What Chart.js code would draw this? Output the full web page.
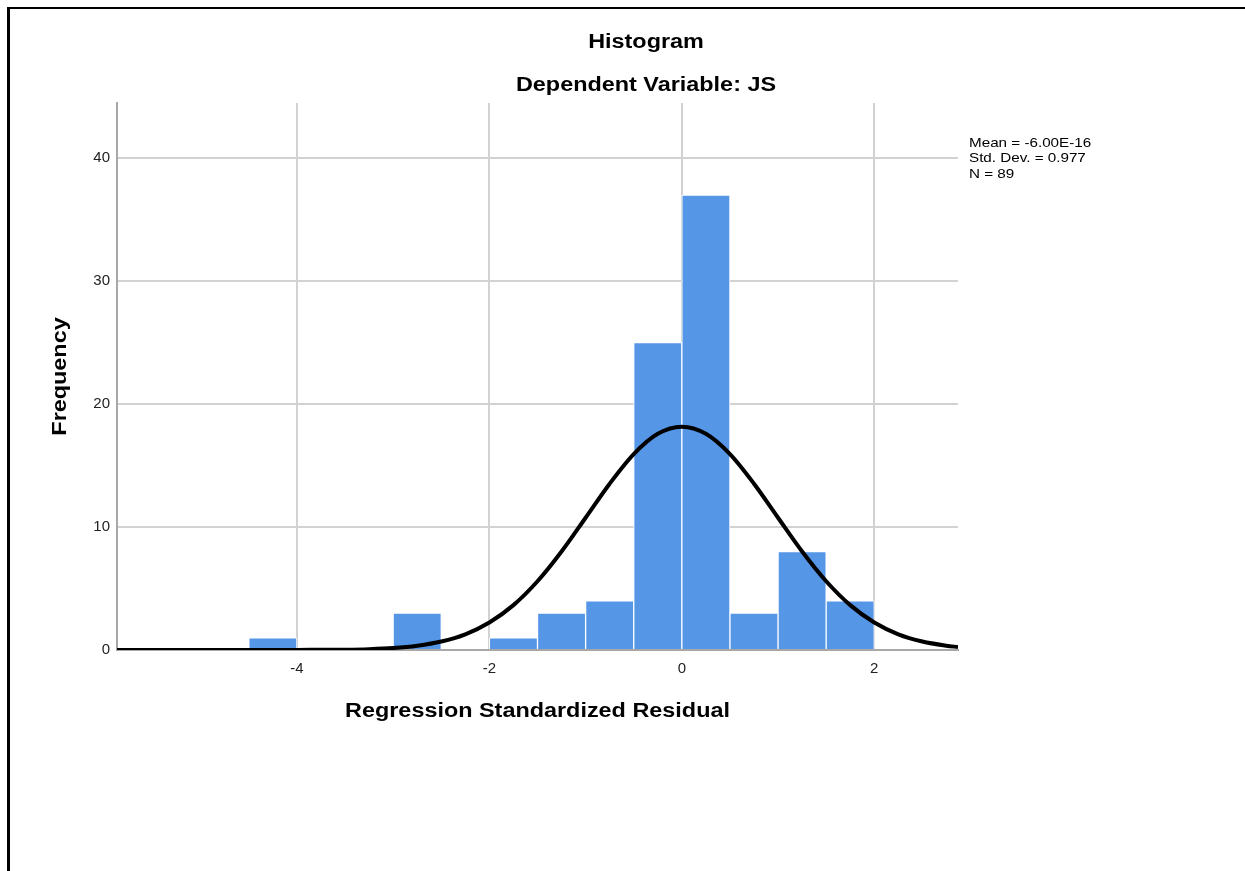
<!DOCTYPE html>
<html>
<head>
<meta charset="utf-8">
<script src="https://cdn.jsdelivr.net/npm/chart.js@4.4.1/dist/chart.umd.min.js"></script>
<style>
  html, body { margin: 0; padding: 0; background: #fff; }
  #frame {
    position: absolute; left: 7px; top: 7px; right: 0; bottom: 0;
    border-top: 2px solid #000; border-left: 3px solid #000;
  }
  #myChart { position: absolute; left: 0; top: 0; }
</style>
</head>
<body>
<div id="frame"></div>
<canvas id="myChart" width="1245" height="871"></canvas>
<script>
// bin centers (width 0.5) and frequencies
const binCenters = [-4.25, -3.75, -3.25, -2.75, -2.25, -1.75, -1.25, -0.75, -0.25, 0.25, 0.75, 1.25, 1.75];
const counts     = [1, 0, 0, 3, 0, 1, 3, 4, 25, 37, 3, 8, 4];

// normal curve
const curveX = [-5.87, -5, -4.5, -4, -3.5, -3.25, -3, -2.75, -2.5, -2.25, -2, -1.75, -1.5, -1.25, -1, -0.75, -0.5, -0.25, 0,
                0.25, 0.5, 0.75, 1, 1.25, 1.5, 1.75, 2, 2.25, 2.5, 2.75, 2.87];
const curveY = [0, 0, 0, 0.01, 0.03, 0.07, 0.16, 0.35, 0.69, 1.28, 2.24, 3.65, 5.59, 8.01, 10.76, 13.53, 15.94, 17.59, 18.17,
                17.59, 15.94, 13.53, 10.76, 8.01, 5.59, 3.65, 2.24, 1.28, 0.69, 0.35, 0.24];

const xTicks = [-4, -2, 0, 2];
const yTicks = [0, 10, 20, 30, 40];

const stats = ['Mean = -6.00E-16', 'Std. Dev. = 0.977', 'N = 89'];

const SX = 1.17; // SPSS text is a bit wider than Arial

function drawText(ctx, text, x, y, font, align, angle) {
    ctx.save();
    ctx.translate(x, y);
    if (angle) ctx.rotate(angle);
    ctx.scale(SX, 1);
    ctx.font = font;
    ctx.fillStyle = '#000';
    ctx.textAlign = align;
    ctx.textBaseline = 'middle';
    ctx.fillText(text, 0, 0);
    ctx.restore();
}

const textPlugin = {
    id: 'spssText',
    afterDraw(chart) {
        const ctx = chart.ctx;
        const area = chart.chartArea;
        const big = 'bold 20px "Liberation Sans", Arial, sans-serif';
        drawText(ctx, 'Histogram', 646, 42, big, 'center');
        drawText(ctx, 'Dependent Variable: JS', 646, 85, big, 'center');
        drawText(ctx, 'Regression Standardized Residual', (area.left + area.right) / 2, 711, big, 'center');
        drawText(ctx, 'Frequency', 60, (area.top + area.bottom) / 2, big, 'center', -Math.PI / 2);
        stats.forEach((s, i) => {
            drawText(ctx, s, 969, 143 + i * 15.5, '13px "Liberation Sans", Arial, sans-serif', 'left');
        });
    }
};

const config = {
    type: 'bar',
    data: {
        datasets: [
            {
                type: 'line',
                data: curveX.map((x, i) => ({ x: x, y: curveY[i] })),
                borderColor: '#000',
                borderWidth: 4,
                pointRadius: 0,
                fill: false,
                cubicInterpolationMode: 'monotone'
            },
            {
                type: 'bar',
                data: binCenters.map((c, i) => ({ x: c, y: counts[i] })),
                backgroundColor: '#5596E6',
                borderColor: '#ffffff',
                borderWidth: 1,
                barPercentage: 1,
                categoryPercentage: 1
            }
        ]
    },
    options: {
        responsive: false,
        animation: false,
        layout: { padding: { left: 0, top: 103, right: 287, bottom: 181 } },
        plugins: {
            legend: { display: false },
            tooltip: { enabled: false }
        },
        scales: {
            x: {
                type: 'linear',
                min: -5.87,
                max: 2.87,
                offset: false,
                afterBuildTicks: s => { s.ticks = xTicks.map(v => ({ value: v })); },
                afterFit: s => { s.height = 40; },
                grid: { offset: false, color: '#d2d2d2', lineWidth: 2, drawTicks: false },
                border: { color: '#a8a8a8', width: 2 },
                ticks: {
                    padding: 10,
                    color: '#222',
                    font: { family: '"Liberation Sans", Arial, sans-serif', size: 15 },
                    callback: v => String(v)
                }
            },
            y: {
                min: 0,
                max: 44.5,
                afterBuildTicks: s => { s.ticks = yTicks.map(v => ({ value: v })); },
                afterFit: s => { s.width = 117; },
                grid: { color: '#d2d2d2', lineWidth: 2, drawTicks: false },
                border: { color: '#a8a8a8', width: 2 },
                ticks: {
                    padding: 7,
                    color: '#222',
                    font: { family: '"Liberation Sans", Arial, sans-serif', size: 15 },
                    callback: v => String(v)
                }
            }
        }
    },
    plugins: [textPlugin]
};

const myChart = new Chart(document.getElementById('myChart'), config);
</script>
</body>
</html>
